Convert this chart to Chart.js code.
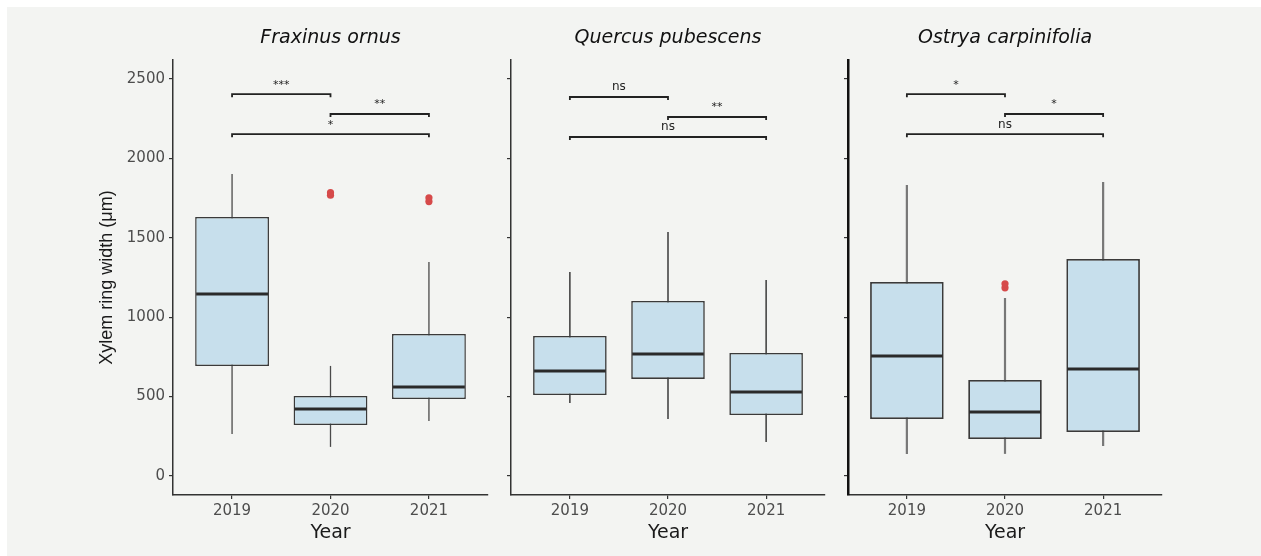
<!DOCTYPE html>
<html><head><meta charset="utf-8">
<script src="https://cdn.jsdelivr.net/npm/chart.js@4.4.1/dist/chart.umd.min.js"></script>
<style>
html,body{margin:0;padding:0;background:#ffffff;width:1261px;height:556px;overflow:hidden}
#bg{position:absolute;left:7px;top:7px;width:1254px;height:549px;background:#f3f4f2}
canvas{position:absolute;left:0;top:0}
</style></head><body>
<div id="bg"></div>
<canvas id="c1" width="1261" height="556"></canvas>
<canvas id="c2" width="1261" height="556"></canvas>
<canvas id="c3" width="1261" height="556"></canvas>
<script>
// ---- data ----
const years = ['2019','2020','2021'];
const species = ['Fraxinus ornus','Quercus pubescens','Ostrya carpinifolia'];
const yTickValues = [0,500,1000,1500,2000,2500];

const fraxinusLow    = [265, 183, 346];
const fraxinusQ1     = [693, 321, 485];
const fraxinusMedian = [1146, 422, 560];
const fraxinusQ3     = [1631, 504, 894];
const fraxinusHigh   = [1902, 693, 1348];
const fraxinusOutliers = [[], [1768, 1784], [1728, 1752]];
const fraxinusSigPairs  = [[0,1],[1,2],[0,2]];
const fraxinusSigY      = [2405, 2280, 2153];
const fraxinusSigLabels = ['***','**','*'];

const quercusLow    = [460, 359, 214];
const quercusQ1     = [510, 611, 384];
const quercusMedian = [661, 768, 529];
const quercusQ3     = [882, 1102, 775];
const quercusHigh   = [1285, 1537, 1234];
const quercusOutliers = [[], [], []];
const quercusSigPairs  = [[0,1],[1,2],[0,2]];
const quercusSigY      = [2387, 2261, 2135];
const quercusSigLabels = ['ns','**','ns'];

const ostryaLow    = [139, 139, 189];
const ostryaQ1     = [359, 233, 277];
const ostryaMedian = [756, 403, 674];
const ostryaQ3     = [1222, 605, 1367];
const ostryaHigh   = [1833, 1121, 1851];
const ostryaOutliers = [[], [1185, 1210], []];
const ostryaSigPairs  = [[0,1],[1,2],[0,2]];
const ostryaSigY      = [2405, 2280, 2153];
const ostryaSigLabels = ['*','*','ns'];

// ---- drawing helpers ----
const boxExtras = {
  id: 'boxExtras',
  beforeDatasetsDraw(chart, args, p) {
    const {ctx} = chart; const x = chart.scales.x, y = chart.scales.y;
    ctx.save();
    ctx.strokeStyle = p.whiskerColor; ctx.lineWidth = p.whiskerWidth;
    p.low.forEach((lo, i) => {
      const px = x.getPixelForValue(i + 1);
      ctx.beginPath();
      ctx.moveTo(px, y.getPixelForValue(lo));
      ctx.lineTo(px, y.getPixelForValue(p.high[i]));
      ctx.stroke();
    });
    ctx.restore();
  },
  afterDatasetsDraw(chart, args, p) {
    const {ctx} = chart; const y = chart.scales.y;
    const meta = chart.getDatasetMeta(1);
    ctx.save();
    ctx.strokeStyle = '#2a2a2a'; ctx.lineWidth = 3;
    p.median.forEach((m, i) => {
      const el = meta.data[i];
      const py = y.getPixelForValue(m);
      ctx.beginPath();
      ctx.moveTo(el.x - el.width / 2 + 1, py);
      ctx.lineTo(el.x + el.width / 2 - 1, py);
      ctx.stroke();
    });
    ctx.restore();
  },
  afterDraw(chart, args, p) {
    const {ctx} = chart; const x = chart.scales.x, y = chart.scales.y;
    ctx.save();
    ctx.strokeStyle = '#222'; ctx.lineWidth = 1.8; ctx.fillStyle = '#222';
    ctx.textAlign = 'center'; ctx.textBaseline = 'alphabetic';
    p.pairs.forEach((pr, k) => {
      const xa = x.getPixelForValue(pr[0] + 1), xb = x.getPixelForValue(pr[1] + 1);
      const py = y.getPixelForValue(p.sigY[k]);
      ctx.beginPath();
      ctx.moveTo(xa, py + 3); ctx.lineTo(xa, py); ctx.lineTo(xb, py); ctx.lineTo(xb, py + 3);
      ctx.stroke();
      const lab = p.labels[k];
      ctx.font = (lab === 'ns' ? '12px' : '11px') + ' "DejaVu Sans"';
      ctx.fillText(lab, (xa + xb) / 2, py - 6.5);
    });
    ctx.restore();
  }
};

function makePanel(id, cfg) {
  const boxData = years.map((yr, i) => ({x: i + 1, y: [cfg.q1[i], cfg.q3[i]]}));
  const outData = [];
  cfg.out.forEach((arr, i) => arr.forEach(v => outData.push({x: i + 1, y: v})));
  new Chart(document.getElementById(id), {
    type: 'bar',
    data: { datasets: [
      {type: 'scatter', data: outData, backgroundColor: '#d64a4a', borderWidth: 0, pointRadius: 3.6, pointHoverRadius: 3.6},
      {type: 'bar', data: boxData, backgroundColor: '#c7dfec', borderColor: '#3a3a3a', borderWidth: cfg.boxBorder,
       borderSkipped: false, barPercentage: 0.75, categoryPercentage: 1}
    ]},
    options: {
      responsive: false, animation: false, devicePixelRatio: 1,
      layout: {padding: {left: cfg.padLeft, right: cfg.padRight, top: 0, bottom: 0}},
      plugins: {
        legend: {display: false}, tooltip: {enabled: false},
        title: {display: true, text: cfg.title, fullSize: false, color: '#111',
                font: {family: 'DejaVu Sans', size: 19, style: 'italic', weight: 'normal'},
                padding: {top: 26.6, bottom: 10.6}},
        boxExtras: {low: cfg.low, high: cfg.high, median: cfg.median, pairs: cfg.pairs, sigY: cfg.sigY,
                    labels: cfg.labels, whiskerColor: cfg.whiskerColor, whiskerWidth: cfg.whiskerWidth}
      },
      scales: {
        x: {
          type: 'linear', min: 0.4, max: 3.6, offset: false,
          afterBuildTicks: s => { s.ticks = years.map((_, i) => ({value: i + 1})); },
          afterFit: s => { s.height = 61; },
          ticks: {callback: v => years[Math.round(v) - 1], font: {family: 'DejaVu Sans', size: 15},
                  color: '#4d4d4d', padding: 3, maxRotation: 0, autoSkip: false},
          grid: {offset: false, drawOnChartArea: false, drawTicks: true, tickLength: 4, color: '#333', lineWidth: 1.2},
          border: {display: true, color: '#333', width: 1.5},
          title: {display: true, text: 'Year', color: '#1a1a1a', font: {family: 'DejaVu Sans', size: 19},
                  padding: {top: 0, bottom: 11.6}}
        },
        y: {
          type: 'linear', min: -120, max: 2620,
          afterBuildTicks: s => { s.ticks = yTickValues.map(v => ({value: v})); },
          afterFit: s => { s.width = cfg.yWidth; },
          ticks: {display: cfg.showY, callback: v => String(v), font: {family: 'DejaVu Sans', size: 15}, color: '#4d4d4d', padding: 4},
          grid: {drawOnChartArea: false, drawTicks: true, tickLength: 4, color: '#333', lineWidth: 1.2},
          border: {display: true, color: cfg.yBorderColor, width: cfg.yBorderWidth},
          title: {display: cfg.showY, text: 'Xylem ring width (μm)', color: '#1a1a1a',
                  font: {family: 'Liberation Sans', size: 18}, padding: {top: 96, bottom: 0}}
        }
      }
    },
    plugins: [boxExtras]
  });
}

makePanel('c1', {title: species[0], low: fraxinusLow, q1: fraxinusQ1, median: fraxinusMedian, q3: fraxinusQ3,
  high: fraxinusHigh, out: fraxinusOutliers, pairs: fraxinusSigPairs, sigY: fraxinusSigY, labels: fraxinusSigLabels,
  padLeft: 0, yWidth: 173, padRight: 773, showY: true, whiskerColor: '#4a4a4a', whiskerWidth: 1.3,
  boxBorder: 1.5, yBorderColor: '#333', yBorderWidth: 1.5});
makePanel('c2', {title: species[1], low: quercusLow, q1: quercusQ1, median: quercusMedian, q3: quercusQ3,
  high: quercusHigh, out: quercusOutliers, pairs: quercusSigPairs, sigY: quercusSigY, labels: quercusSigLabels,
  padLeft: 490, yWidth: 21, padRight: 436, showY: false, whiskerColor: '#3a3a3a', whiskerWidth: 1.5,
  boxBorder: 1.6, yBorderColor: '#333', yBorderWidth: 1.5});
makePanel('c3', {title: species[2], low: ostryaLow, q1: ostryaQ1, median: ostryaMedian, q3: ostryaQ3,
  high: ostryaHigh, out: ostryaOutliers, pairs: ostryaSigPairs, sigY: ostryaSigY, labels: ostryaSigLabels,
  padLeft: 827, yWidth: 21, padRight: 99, showY: false, whiskerColor: '#777', whiskerWidth: 2.2,
  boxBorder: 1.8, yBorderColor: '#111', yBorderWidth: 2.5});
</script>
</body></html>
